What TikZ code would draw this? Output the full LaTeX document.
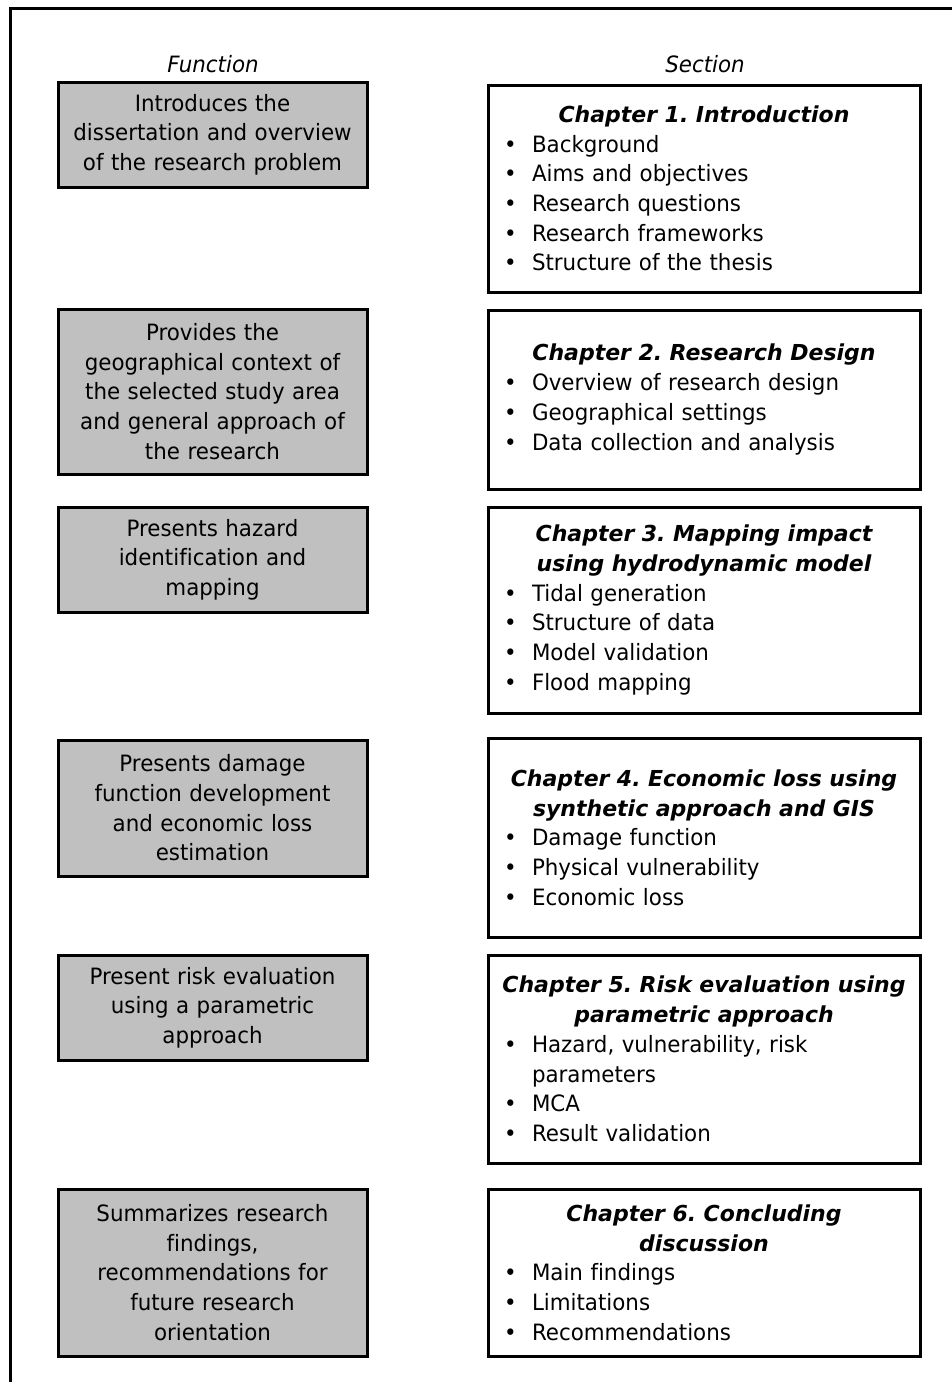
\documentclass[tikz,border=0pt]{standalone}
\usepackage{fontspec}
\setmainfont{DejaVu Sans}[FakeStretch=0.95,Ligatures=NoCommon]
\newfontfamily\tfont{DejaVu Sans}[Ligatures=NoCommon]
\definecolor{boxgray}{HTML}{C0C0C0}
\frenchspacing
\newcommand\fs{\fontsize{22.5}{29.7}\selectfont}
\newcommand\rfs{\fontsize{22.5}{29.7}\selectfont\frenchspacing\parindent=0pt\relax\raggedright}
\newcommand\ttl[1]{{\centering\tfont\fontsize{22}{29.7}\selectfont\bfseries\itshape #1\par}}
\newcommand\bitem[1]{\par\noindent\makebox[36pt][l]{\hspace{8pt}•}#1}
\newcommand\bcont[1]{\par\noindent\hspace*{36pt}#1}
\tikzset{
  lbox/.style={draw, line width=3pt, fill=boxgray, minimum width=309pt, text width=300pt, align=center, inner sep=0pt, outer sep=0pt, font=\fs},
  rbox/.style={draw, line width=3pt, fill=white, minimum width=432pt, text width=416pt, inner sep=0pt, outer sep=0pt, font=\rfs},
  head/.style={font=\fs\itshape, inner sep=0pt},
  frame/.style={line width=3pt}
}
\begin{document}
\begin{tikzpicture}[x=1pt,y=-1pt]
\useasboundingbox (0,0) rectangle (952,1382);
\coordinate (tr) at (952,8);
\coordinate (tl) at (10,8);
\coordinate (bl) at (10,1382);
\draw[frame] (tr) -- (tl) -- (bl);

\node[head] (hf) at (213,64) {Function};
\node[head] (hs) at (705,64) {Section};

% left column
\node[lbox, minimum height=105pt] (f1) at (212.5,134.5) {Introduces the\\dissertation and overview\\of the research problem};
\node[lbox, minimum height=165pt] (f2) at (212.5,391.5) {Provides the\\geographical context of\\the selected study area\\and general approach of\\the research};
\node[lbox, minimum height=105pt] (f3) at (212.5,559.5) {Presents hazard\\identification and\\mapping};
\node[lbox, minimum height=136pt] (f4) at (212.5,808) {Presents damage\\function development\\and economic loss\\estimation};
\node[lbox, minimum height=105pt] (f5) at (212.5,1007.5) {Present risk evaluation\\using a parametric\\approach};
\node[lbox, minimum height=167pt] (f6) at (212.5,1272.5) {Summarizes research\\findings,\\recommendations for\\future research\\orientation};

% right column
\node[rbox, minimum height=207pt] (s1) at (704,188.5) {\ttl{Chapter 1. Introduction}\bitem{Background}\bitem{Aims and objectives}\bitem{Research questions}\bitem{Research frameworks}\bitem{Structure of the thesis}};
\node[rbox, minimum height=179pt] (s2) at (704,399.5) {\ttl{Chapter 2. Research Design}\bitem{Overview of research design}\bitem{Geographical settings}\bitem{Data collection and analysis}};
\node[rbox, minimum height=206pt] (s3) at (704,610) {\ttl{Chapter 3. Mapping impact\\using hydrodynamic model}\bitem{Tidal generation}\bitem{Structure of data}\bitem{Model validation}\bitem{Flood mapping}};
\node[rbox, minimum height=199pt] (s4) at (704,837.5) {\ttl{Chapter 4. Economic loss using\\synthetic approach and GIS}\bitem{Damage function}\bitem{Physical vulnerability}\bitem{Economic loss}};
\node[rbox, minimum height=208pt] (s5) at (704,1059) {\ttl{Chapter 5. Risk evaluation using\\parametric approach}\bitem{Hazard, vulnerability, risk}\bcont{parameters}\bitem{MCA}\bitem{Result validation}};
\node[rbox, minimum height=167pt] (s6) at (704,1272.5) {\ttl{Chapter 6. Concluding\\discussion}\bitem{Main findings}\bitem{Limitations}\bitem{Recommendations}};
\end{tikzpicture}
\end{document}
